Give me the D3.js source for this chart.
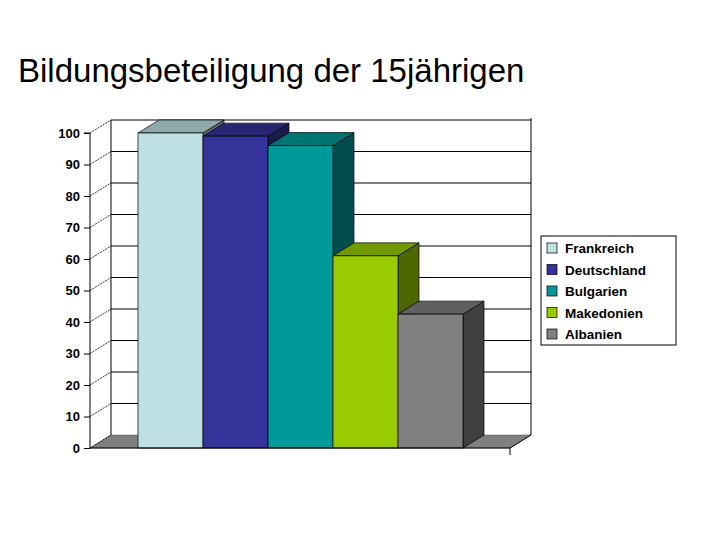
<!DOCTYPE html>
<html><head><meta charset="utf-8">
<script src="https://cdn.jsdelivr.net/npm/d3@7"></script>
<style>body{margin:0;background:#fff}</style>
</head><body>
<div class="canvas"></div>
<script>
// data
const categories = ['Frankreich', 'Deutschland', 'Bulgarien', 'Makedonien', 'Albanien'];
const values = [100, 99, 96, 61, 42.5];
const ticks = [0, 10, 20, 30, 40, 50, 60, 70, 80, 90, 100];
const colors = ['#bde0e4', '#35339a', '#009999', '#99cc00', '#808080'];
const sideColors = ['#5e7072', '#1a1a4d', '#004d4d', '#4d6600', '#404040'];
const topColors = ['#8ea8ab', '#282673', '#007373', '#739900', '#606060'];

const svg = d3.select('.canvas').append('svg')
    .attr('width', 720).attr('height', 540);

svg.append('text').attr('x', 18).attr('y', 82)
    .attr('font-family', 'Liberation Sans, Arial, sans-serif')
    .attr('font-size', 33).text('Bildungsbeteiligung der 15jährigen');

// 3d depth offset
const dx = 21, dy = -13;
const x0 = 90, x1 = 510;
const y = d3.scaleLinear().domain([0, 100]).range([448, 133]);
const x = d3.scaleBand().domain(categories).range([138, 463]).padding(0);

const g = svg.append('g');

// floor
g.append('polygon')
    .attr('points', [[x0, y(0)], [x1, y(0)], [x1 + dx, y(0) + dy], [x0 + dx, y(0) + dy]].join(' '))
    .attr('fill', '#808080').attr('stroke', '#555').attr('stroke-width', 0.5);

// back gridlines + left wall
ticks.forEach(t => {
    if (t > 0) g.append('line')
        .attr('x1', x0 + dx).attr('x2', x1 + dx)
        .attr('y1', y(t) + dy).attr('y2', y(t) + dy)
        .attr('stroke', '#000').attr('stroke-width', 1);
    g.append('line')
        .attr('x1', x0).attr('x2', x0 + dx)
        .attr('y1', y(t)).attr('y2', y(t) + dy)
        .attr('stroke', '#000').attr('stroke-width', 0.8).attr('stroke-dasharray', '2,1');
});
g.append('line').attr('x1', x0 + dx).attr('x2', x0 + dx)
    .attr('y1', y(100) + dy).attr('y2', y(0) + dy).attr('stroke', '#000');
g.append('line').attr('x1', x1 + dx).attr('x2', x1 + dx)
    .attr('y1', y(100) + dy - 2).attr('y2', y(0) + dy).attr('stroke', '#000');
g.append('line').attr('x1', x1).attr('x2', x1)
    .attr('y1', y(0)).attr('y2', y(0) + 7).attr('stroke', '#000');
g.append('line').attr('x1', x1).attr('x2', x1 + dx)
    .attr('y1', y(0)).attr('y2', y(0) + dy).attr('stroke', '#000');

// bars
const bars = g.selectAll('.bar').data(categories).enter().append('g');
bars.append('polygon')
    .attr('points', (d, i) => {
        const l = x(d) + x.bandwidth(), t = y(values[i]), b = y(0);
        return [[l, t], [l + dx, t + dy], [l + dx, b + dy], [l, b]].join(' ');
    })
    .attr('fill', (d, i) => sideColors[i]).attr('stroke', '#000').attr('stroke-width', 0.7);
bars.append('polygon')
    .attr('points', (d, i) => {
        const l = x(d), r = l + x.bandwidth(), t = y(values[i]);
        return [[l, t], [r, t], [r + dx, t + dy], [l + dx, t + dy]].join(' ');
    })
    .attr('fill', (d, i) => topColors[i]).attr('stroke', '#000').attr('stroke-width', 0.7);
bars.append('rect')
    .attr('x', d => x(d)).attr('width', x.bandwidth())
    .attr('y', (d, i) => y(values[i])).attr('height', (d, i) => y(0) - y(values[i]))
    .attr('fill', (d, i) => colors[i]).attr('stroke', '#000').attr('stroke-width', 0.7);

// y axis
const yAxis = d3.axisLeft(y).tickValues(ticks).tickSize(6).tickPadding(4);
const ya = svg.append('g').attr('transform', `translate(${x0},0)`).call(yAxis);
ya.selectAll('text').attr('font-family', 'Liberation Sans, Arial, sans-serif')
    .attr('font-size', 13).attr('font-weight', 'bold').attr('fill', '#000');
ya.select('.domain').attr('d', `M-6,${y(100)}H0V${y(0)}`);
svg.append('line').attr('x1', x0).attr('x2', x1).attr('y1', y(0)).attr('y2', y(0)).attr('stroke', '#000');

// legend
const lg = svg.append('g').attr('transform', 'translate(541,236)');
lg.append('rect').attr('width', 135).attr('height', 109).attr('fill', '#fff').attr('stroke', '#000');
categories.forEach((c, i) => {
    lg.append('rect').attr('x', 6).attr('y', 7 + i * 21.5).attr('width', 10).attr('height', 10)
        .attr('fill', colors[i]).attr('stroke', '#000').attr('stroke-width', 0.7);
    lg.append('text').attr('x', 24).attr('y', 17 + i * 21.5)
        .attr('font-family', 'Liberation Sans, Arial, sans-serif')
        .attr('font-size', 13.5).attr('font-weight', 'bold').text(c);
});
</script>
</body></html>
